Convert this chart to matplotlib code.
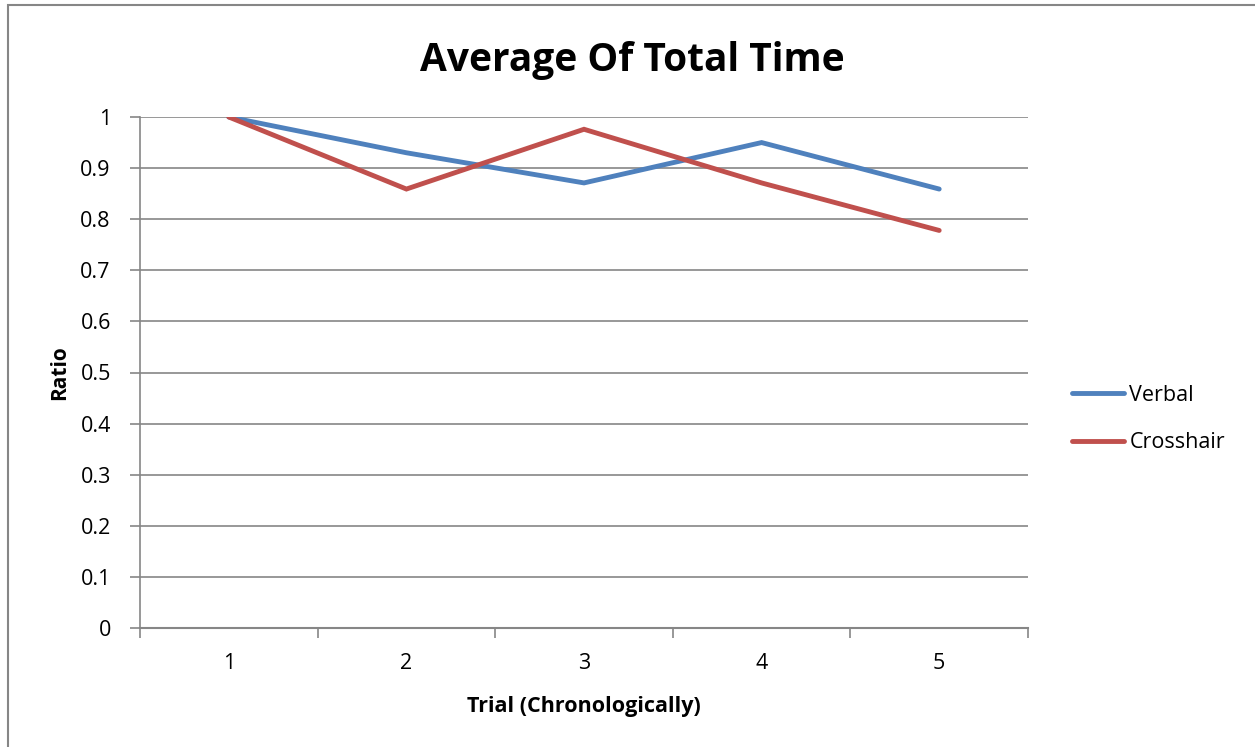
import matplotlib
matplotlib.use("Agg")
import matplotlib.pyplot as plt
from matplotlib.patches import Rectangle

trials = [1, 2, 3, 4, 5]
tick_labels = ["1", "2", "3", "4", "5"]
verbal = [1.0, 0.930, 0.871, 0.950, 0.859]
crosshair = [1.0, 0.859, 0.976, 0.871, 0.778]
yticks = [0, 0.1, 0.2, 0.3, 0.4, 0.5, 0.6, 0.7, 0.8, 0.9, 1]
ytick_labels = ["0", "0.1", "0.2", "0.3", "0.4", "0.5", "0.6", "0.7", "0.8", "0.9", "1"]

W, H = 1255, 747
plt.rcParams['font.family'] = ['Open Sans', 'DejaVu Sans']
fig = plt.figure(figsize=(W / 100, H / 100), dpi=100)

# chart border
fig.patches.append(Rectangle((8 / W, -0.1), 1.2, 1 - 5 / H + 0.1, transform=fig.transFigure,
                             fill=False, edgecolor="#868686", linewidth=1.5))

ax = fig.add_axes([140 / W, 1 - 628 / H, (1028 - 140) / W, (628 - 117) / H])
grid_c = "#868686"
ax.plot(trials, verbal, color="#4F81BD", linewidth=3.5, label="Verbal", solid_capstyle="round",
        solid_joinstyle="miter")
ax.plot(trials, crosshair, color="#C0504D", linewidth=3.5, label="Crosshair", solid_capstyle="round",
        solid_joinstyle="miter")

ax.set_xlim(0.5, 5.5)
ax.set_ylim(0, 1)
ax.set_yticks(yticks)
ax.set_yticklabels(ytick_labels, fontsize=15.5)
ax.set_xticks([0.5 + i for i in range(6)])
ax.set_xticklabels([])
ax.set_xticks(trials, minor=True)
ax.set_xticklabels(tick_labels, minor=True, fontsize=15.5)
ax.tick_params(axis="x", which="minor", length=0, pad=18)
ax.tick_params(axis="x", which="major", length=7, color=grid_c, width=1.2)
ax.tick_params(axis="y", length=7, color=grid_c, width=1.2, pad=14)
ax.yaxis.grid(True, color=grid_c, linewidth=1.2)
ax.set_axisbelow(True)
for s in ["top", "right"]:
    ax.spines[s].set_visible(False)
ax.spines["left"].set_color(grid_c)
ax.spines["left"].set_linewidth(1.2)
ax.spines["bottom"].set_color(grid_c)
ax.spines["bottom"].set_linewidth(1.5)

ax.set_xlabel("Trial (Chronologically)", fontsize=15.5, fontweight="bold", labelpad=16)
ax.set_ylabel("Ratio", fontsize=15, fontweight="bold", labelpad=7)
fig.text(632 / W, 1 - 56 / H, "Average Of Total Time", fontsize=28, fontweight="bold",
         ha="center", va="center_baseline")

fig.legend(loc="center left", bbox_to_anchor=(1053 / W, 1 - 419 / H), frameon=False,
           fontsize=15.5, handlelength=2.4, handletextpad=0.25, labelspacing=1.25)

fig.savefig("out.png", dpi=100)
